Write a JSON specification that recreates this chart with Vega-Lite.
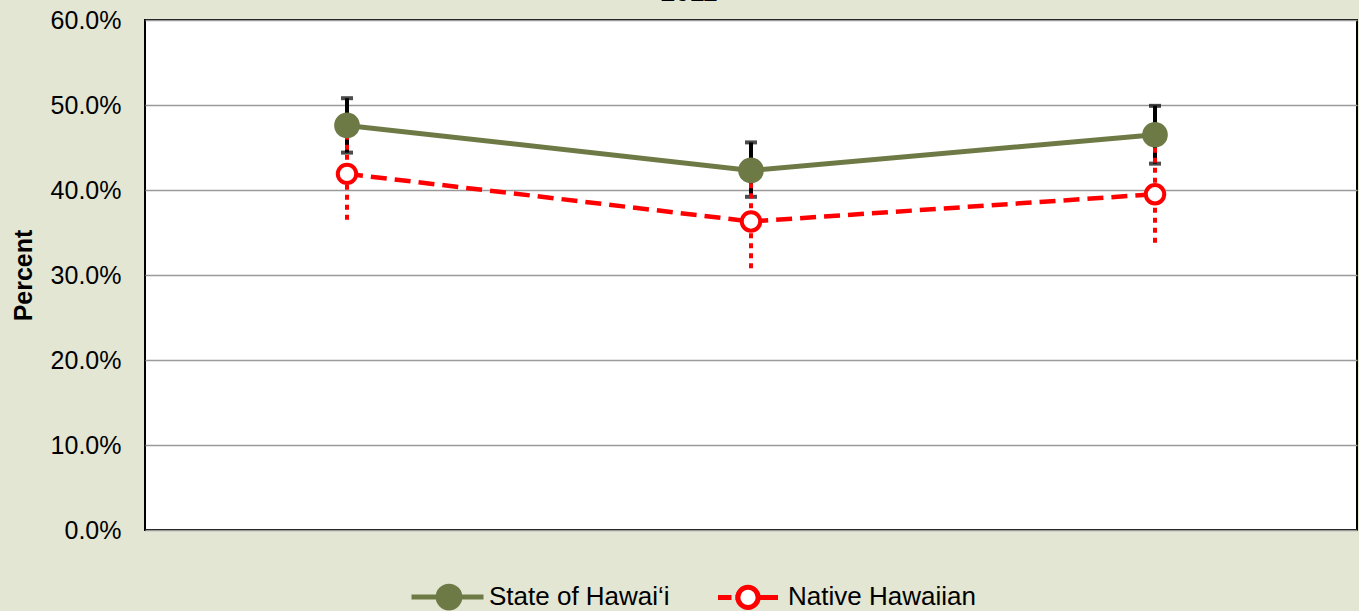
{
  "$schema": "https://vega.github.io/schema/vega-lite/v6.json",
  "width": 1212,
  "height": 510,
  "autosize": {"type": "none"},
  "padding": {"left": 145, "top": 20, "right": 2, "bottom": 81},
  "background": "#E2E6D3",
  "title": {"text": "2011", "font": "Liberation Sans", "fontSize": 26, "fontWeight": "bold", "color": "#000000", "anchor": "middle", "baseline": "alphabetic", "offset": -1, "dx": -62, "dy": 18},
  "data": {"values": [
    {"group": "Group 1", "series": "State of Hawai‘i", "pct": 0.476, "lo": 0.444, "hi": 0.508},
    {"group": "Group 2", "series": "State of Hawai‘i", "pct": 0.423, "lo": 0.392, "hi": 0.456},
    {"group": "Group 3", "series": "State of Hawai‘i", "pct": 0.465, "lo": 0.431, "hi": 0.499},
    {"group": "Group 1", "series": "Native Hawaiian", "pct": 0.419, "lo": 0.365, "hi": 0.473},
    {"group": "Group 2", "series": "Native Hawaiian", "pct": 0.363, "lo": 0.308, "hi": 0.418},
    {"group": "Group 3", "series": "Native Hawaiian", "pct": 0.395, "lo": 0.338, "hi": 0.452}
  ]},
  "encoding": {
    "x": {"field": "group", "type": "nominal", "scale": {"type": "point", "padding": 0.5}, "axis": null, "sort": null}
  },
  "layer": [
    {
      "transform": [{"filter": "datum.series === 'State of Hawai‘i'"}],
      "mark": {"type": "rule", "color": "#000000", "strokeWidth": 4},
      "encoding": {
        "y": {"field": "lo", "type": "quantitative", "scale": {"domain": [0, 0.6], "nice": false},
          "axis": {"values": [0, 0.1, 0.2, 0.3, 0.4, 0.5, 0.6], "format": ".1%", "grid": true, "gridColor": "#9A9A9A", "gridWidth": 1.5, "domain": false, "ticks": false, "labelFont": "Liberation Sans", "labelFontSize": 25, "labelColor": "#000000", "labelPadding": 24, "title": "Percent", "titleFont": "Liberation Sans", "titleFontSize": 25, "titleFontWeight": "bold", "titleColor": "#000000", "titlePadding": 14}},
        "y2": {"field": "hi"}
      }
    },
    {
      "transform": [{"filter": "datum.series === 'State of Hawai‘i'"}],
      "mark": {"type": "tick", "color": "#000000", "thickness": 4, "size": 12, "orient": "horizontal"},
      "encoding": {"y": {"field": "lo", "type": "quantitative"}}
    },
    {
      "transform": [{"filter": "datum.series === 'State of Hawai‘i'"}],
      "mark": {"type": "tick", "color": "#000000", "thickness": 4, "size": 12, "orient": "horizontal"},
      "encoding": {"y": {"field": "hi", "type": "quantitative"}}
    },
    {
      "transform": [{"filter": "datum.series === 'Native Hawaiian'"}],
      "mark": {"type": "rule", "color": "#FF0000", "strokeWidth": 4, "strokeDash": [5, 5]},
      "encoding": {
        "y": {"field": "lo", "type": "quantitative"},
        "y2": {"field": "hi"}
      }
    },
    {
      "transform": [{"filter": "datum.series === 'State of Hawai‘i'"}],
      "mark": {"type": "line", "color": "#6E7A46", "strokeWidth": 5},
      "encoding": {"y": {"field": "pct", "type": "quantitative"}}
    },
    {
      "transform": [{"filter": "datum.series === 'Native Hawaiian'"}],
      "mark": {"type": "line", "color": "#FF0000", "strokeWidth": 4.5, "strokeDash": [16, 8]},
      "encoding": {"y": {"field": "pct", "type": "quantitative"}}
    },
    {
      "mark": {"type": "point", "shape": "circle", "strokeWidth": 4, "opacity": 1},
      "encoding": {
        "y": {"field": "pct", "type": "quantitative"},
        "size": {"condition": {"test": "datum.series === 'State of Hawai‘i'", "value": 470}, "value": 340},
        "fill": {"field": "series", "type": "nominal", "scale": {"domain": ["State of Hawai‘i", "Native Hawaiian"], "range": ["#6E7A46", "#FFFFFF"]},
          "legend": {
            "encode": {
              "symbols": {"update": {
                "shape": [
                  {"test": "datum.value === 'Native Hawaiian'", "value": "M-0.8,0H-0.44M-0.34,0H-0.27A0.27,0.27 0 1,1 0.27,0A0.27,0.27 0 1,1 -0.27,0M0.27,0H0.8"},
                  {"value": "M-1,0H-0.29A0.29,0.29 0 1,1 0.29,0A0.29,0.29 0 1,1 -0.29,0M0.29,0H0.92"}
                ]
              }}
            }
          }
        },
        "stroke": {"field": "series", "type": "nominal", "scale": {"domain": ["State of Hawai‘i", "Native Hawaiian"], "range": ["#6E7A46", "#FF0000"]},
          "legend": {
            "encode": {
              "symbols": {"update": {
                "shape": [
                  {"test": "datum.value === 'Native Hawaiian'", "value": "M-0.8,0H-0.44M-0.34,0H-0.27A0.27,0.27 0 1,1 0.27,0A0.27,0.27 0 1,1 -0.27,0M0.27,0H0.8"},
                  {"value": "M-1,0H-0.29A0.29,0.29 0 1,1 0.29,0A0.29,0.29 0 1,1 -0.29,0M0.29,0H0.92"}
                ]
              }}
            }
          }
        }
      }
    }
  ],
  "config": {
    "view": {"fill": "#FFFFFF", "stroke": "#000000", "strokeWidth": 2},
    "font": "Liberation Sans",
    "legend": {
      "title": null, "orient": "none", "legendX": 264, "legendY": 537, "direction": "horizontal",
      "labelFont": "Liberation Sans", "labelFontSize": 26, "labelColor": "#000000", "labelLimit": 400,
      "symbolSize": 5625, "symbolStrokeWidth": 5, "labelOffset": 0, "columnPadding": 38,
      "symbolOpacity": 1
    }
  }
}
